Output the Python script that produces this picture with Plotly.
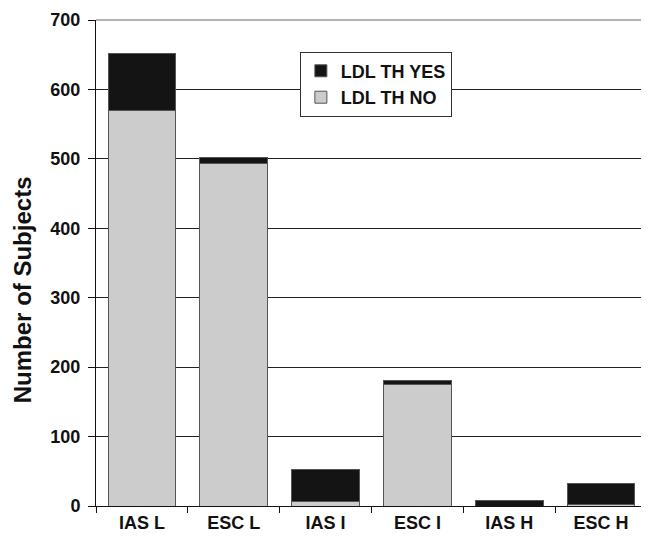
import plotly.graph_objects as go

categories = ["IAS L", "ESC L", "IAS I", "ESC I", "IAS H", "ESC H"]
ldl_no = [569, 493, 6, 175, 0, 2]
ldl_yes = [83, 9, 47, 6, 8, 30]
y_ticks = [0, 100, 200, 300, 400, 500, 600, 700]

FAM = "Liberation Sans, Arial, sans-serif"
font = dict(family=FAM, size=17, color="#111", weight="bold")

fig = go.Figure()
fig.add_trace(go.Bar(x=categories, y=ldl_no, name="LDL TH NO",
                     marker=dict(color="#cccccc", line=dict(color="#555", width=1))))
fig.add_trace(go.Bar(x=categories, y=ldl_yes, name="LDL TH YES",
                     marker=dict(color="#141414", line=dict(color="#555", width=1))))

# page body has an 8px margin, so the figure is 8px smaller and shifted
fig.update_layout(
    barmode="stack", bargap=0.264,
    width=641, height=537,
    margin=dict(l=88, r=2, t=12, b=39, autoexpand=False),
    paper_bgcolor="white", plot_bgcolor="white",
    font=font, showlegend=True,
    legend=dict(x=0.37, y=0.935, xanchor="left", yanchor="top",
                bgcolor="white", bordercolor="#333", borderwidth=1,
                traceorder="reversed", font=dict(family=FAM, size=18, color="#111", weight="bold"),
                itemwidth=30, tracegroupgap=0),
    xaxis=dict(showline=True, linecolor="#111", linewidth=1,
               ticks="outside", ticklen=6, tickcolor="#111", tickson="boundaries",
               tickfont=dict(family=FAM, size=18, color="#111", weight="bold")),
    yaxis=dict(range=[0, 700], tickvals=y_ticks, showline=True, linecolor="#111", linewidth=1,
               ticks="outside", ticklen=7, tickcolor="#111", ticklabelstandoff=4,
               showgrid=True, gridcolor="#222", gridwidth=1,
               tickfont=dict(family=FAM, size=18, color="#111", weight="bold")),
)
fig.add_annotation(text="Number of Subjects", textangle=-90, showarrow=False,
                   xref="paper", yref="paper", x=0, y=0.444, xshift=-74,
                   xanchor="center", yanchor="middle",
                   font=dict(family=FAM, size=24, color="#111", weight="bold"))
fig.add_shape(type="line", xref="paper", yref="paper", x0=0, x1=1, y0=1, y1=1,
              line=dict(color="#999", width=1.5))
fig.add_shape(type="line", xref="paper", yref="paper", x0=1, x1=1, y0=0, y1=1,
              line=dict(color="#bbb", width=1.5))
fig.write_html("out.html")
